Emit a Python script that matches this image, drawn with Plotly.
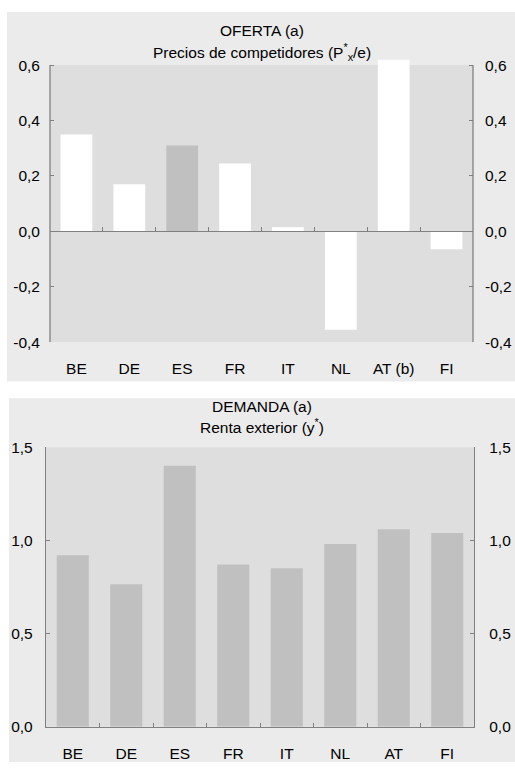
import plotly.graph_objects as go

# Supply side: competitor prices, by country
oferta_cats = ["BE", "DE", "ES", "FR", "IT", "NL", "AT (b)", "FI"]
oferta_vals = [0.35, 0.17, 0.31, 0.245, 0.015, -0.355, 0.62, -0.065]
oferta_ticks = [-0.4, -0.2, 0.0, 0.2, 0.4, 0.6]

# Demand side: foreign income, by country
demanda_cats = ["BE", "DE", "ES", "FR", "IT", "NL", "AT", "FI"]
demanda_vals = [0.92, 0.765, 1.40, 0.87, 0.85, 0.98, 1.06, 1.04]
demanda_ticks = [0.0, 0.5, 1.0, 1.5]

highlight = "ES"

W, H = 515, 772
FONT = "Liberation Sans, Arial, sans-serif"
FS = 15.5
PANEL = "#ebebeb"
PLOT = "#dedede"
AXIS = "#808080"
GREY_BAR = "#c0c0c0"


def px_y(p):
    return 1 - p / H


def px_x(p):
    return p / W


def comma_labels(vals):
    # plain hyphen for negatives, comma as decimal mark
    return [f"{v:.1f}".replace(".", ",") for v in vals]


# top panel geometry (pixels)
top_x = [px_x(50), px_x(473)]
top_y = [px_y(340.7), px_y(51.7)]
top_range = [-0.4, 0.62]
top_axis_max = 0.6
# bottom panel geometry
bot_x = [px_x(46), px_x(474)]
bot_y = [px_y(734), px_y(448)]
bot_range = [0, 1.5]

zero_pos = top_y[0] + (0 - top_range[0]) / (top_range[1] - top_range[0]) * (top_y[1] - top_y[0])

fig = go.Figure()

top_colors = [GREY_BAR if c.startswith(highlight) else "#ffffff" for c in oferta_cats]
fig.add_trace(go.Bar(x=oferta_cats, y=oferta_vals, marker=dict(color=top_colors, line_width=0),
                     xaxis="x3", yaxis="y", width=0.6, hoverinfo="skip", showlegend=False))
# helpers so the overlay axes render
fig.add_trace(go.Scatter(x=oferta_cats, y=oferta_vals, mode="none", xaxis="x", yaxis="y3",
                         hoverinfo="skip", showlegend=False))
fig.add_trace(go.Scatter(x=oferta_cats, y=oferta_vals, mode="none", xaxis="x", yaxis="y",
                         hoverinfo="skip", showlegend=False))

fig.add_trace(go.Bar(x=demanda_cats, y=demanda_vals, marker=dict(color=GREY_BAR, line_width=0),
                     xaxis="x2", yaxis="y2", width=0.6, hoverinfo="skip", showlegend=False))
fig.add_trace(go.Scatter(x=demanda_cats, y=demanda_vals, mode="none", xaxis="x2", yaxis="y4",
                         hoverinfo="skip", showlegend=False))

tickfont = dict(family=FONT, size=FS, color="#000000")

yaxis_common = dict(ticks="inside", ticklen=4, tickcolor=AXIS, tickwidth=1,
                    showgrid=False, zeroline=False, tickfont=tickfont, fixedrange=True)

fig.update_layout(
    width=W, height=H,
    margin=dict(l=0, r=0, t=0, b=0),
    paper_bgcolor="#ffffff",
    plot_bgcolor="rgba(0,0,0,0)",
    bargap=0.4,
    font=dict(family=FONT, size=FS, color="#000000"),
    xaxis=dict(domain=top_x, anchor="y", type="category", categoryorder="array",
               categoryarray=oferta_cats, range=[-0.5, 7.5], showline=False, ticks="",
               showgrid=False, tickfont=tickfont, ticklabelstandoff=15),
    xaxis3=dict(domain=top_x, overlaying="x", anchor="free", position=zero_pos, type="category",
                categoryorder="array", categoryarray=oferta_cats, range=[-0.5, 7.5],
                showline=True, linecolor=AXIS, linewidth=1.3, ticks="inside", tickson="boundaries",
                ticklen=4, tickcolor=AXIS, showticklabels=False, showgrid=False),
    yaxis=dict(domain=top_y, anchor="x", range=top_range, tickvals=oferta_ticks,
               ticktext=comma_labels(oferta_ticks), showline=False, ticklabelstandoff=9,
               **yaxis_common),
    yaxis3=dict(domain=top_y, overlaying="y", anchor="x", side="right", range=top_range,
                tickvals=oferta_ticks, ticktext=comma_labels(oferta_ticks), showline=False,
                ticklabelstandoff=11, **yaxis_common),
    xaxis2=dict(domain=bot_x, anchor="y2", type="category", categoryorder="array",
                categoryarray=demanda_cats, range=[-0.5, 7.5], showline=True, linecolor=AXIS,
                linewidth=1.3, ticks="inside", tickson="boundaries", ticklen=4, tickcolor=AXIS,
                showgrid=False, tickfont=tickfont, ticklabelstandoff=12),
    yaxis2=dict(domain=bot_y, anchor="x2", range=bot_range, tickvals=demanda_ticks,
                ticktext=comma_labels(demanda_ticks), showline=True, linecolor=AXIS,
                linewidth=1.3, ticklabelstandoff=9, **yaxis_common),
    yaxis4=dict(domain=bot_y, overlaying="y2", anchor="x2", side="right", range=bot_range,
                tickvals=demanda_ticks, ticktext=comma_labels(demanda_ticks), showline=True,
                linecolor=AXIS, linewidth=1.3, ticklabelstandoff=11, **yaxis_common),
)

shapes = [
    # panel backgrounds
    dict(type="rect", xref="paper", yref="paper", x0=px_x(7), x1=1, y0=px_y(381), y1=px_y(3),
         fillcolor=PANEL, line_width=0, layer="below"),
    dict(type="rect", xref="paper", yref="paper", x0=px_x(9), x1=1, y0=px_y(770), y1=px_y(398),
         fillcolor=PANEL, line_width=0, layer="below"),
    # plotting areas
    dict(type="rect", xref="x domain", yref="y", x0=0, x1=1, y0=top_range[0], y1=top_axis_max,
         fillcolor=PLOT, line_width=0, layer="below"),
    dict(type="rect", xref="x2 domain", yref="y2", x0=0, x1=1, y0=bot_range[0], y1=bot_range[1],
         fillcolor=PLOT, line_width=0, layer="below"),
    # vertical axis lines of the top panel, up to the last tick
    dict(type="line", xref="x domain", yref="y", x0=0, x1=0, y0=top_range[0], y1=top_axis_max,
         line=dict(color=AXIS, width=1.3), layer="above"),
    dict(type="line", xref="x domain", yref="y", x0=1, x1=1, y0=top_range[0], y1=top_axis_max,
         line=dict(color=AXIS, width=1.3), layer="above"),
]
fig.update_layout(shapes=shapes)

titles = [
    ("OFERTA (a)", 22),
    ("Precios de competidores (P<sup>*</sup><sub>x</sub>/e)", 44),
    ("DEMANDA (a)", 406),
    ("Renta exterior (y<sup>*</sup>)", 426),
]
for text, ypix in titles:
    fig.add_annotation(text=text, xref="paper", yref="paper", x=px_x(262), y=px_y(ypix),
                       xanchor="center", yanchor="middle", showarrow=False,
                       font=dict(family=FONT, size=FS, color="#000000"))

fig.write_html("out.html")
